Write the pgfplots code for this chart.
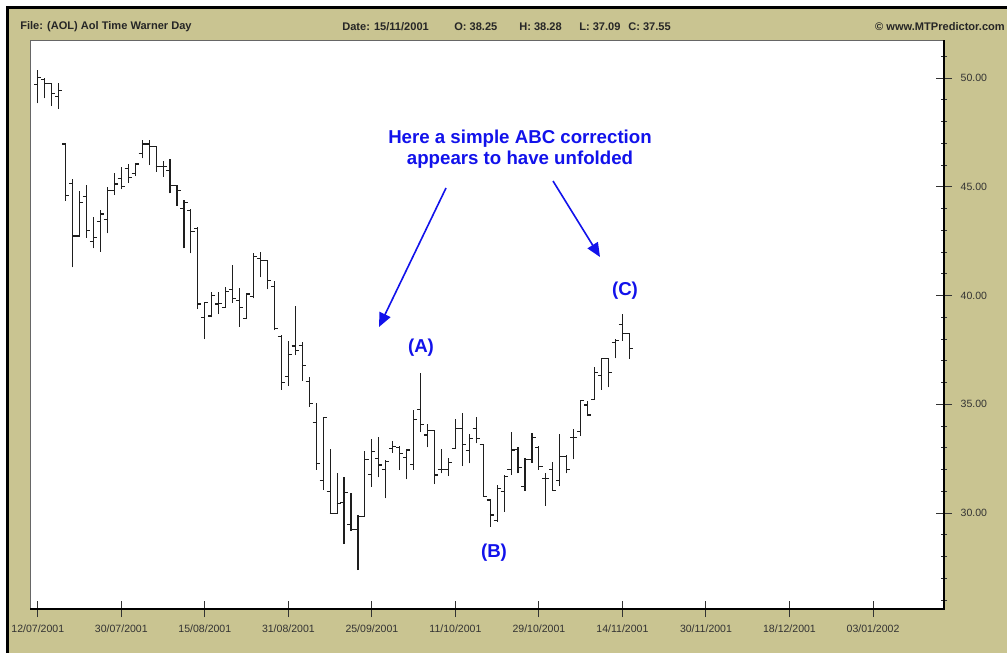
\documentclass[border=0pt]{standalone}
\usepackage{fontspec}
\setmainfont{Liberation Sans}
\usepackage{pgfplots}
\usepackage{pgfplotstable}
\pgfplotsset{compat=1.18}
\usetikzlibrary{arrows.meta}

\definecolor{khaki}{RGB}{201,196,145}
\definecolor{abcblue}{RGB}{18,18,235}
\definecolor{barcol}{RGB}{30,30,30}

% open tick to the left, close tick to the right
\pgfdeclareplotmark{otick}{\pgfpathmoveto{\pgfqpoint{-2.7pt}{0pt}}\pgfpathlineto{\pgfqpoint{0.3pt}{0pt}}\pgfusepathqstroke}
\pgfdeclareplotmark{ctick}{\pgfpathmoveto{\pgfqpoint{-0.3pt}{0pt}}\pgfpathlineto{\pgfqpoint{2.7pt}{0pt}}\pgfusepathqstroke}

% trading day index, open, high, low, close
\pgfplotstableread{
i o h l c
0 49.72 50.37 48.84 50.03
1 49.94 49.99 49.07 49.76
2 49.76 49.78 48.71 49.30
3 49.14 49.78 48.60 49.42
4 46.97 46.97 44.36 44.62
5 45.16 45.34 41.30 42.74
6 42.74 44.82 42.70 44.27
7 44.57 45.08 42.67 43.01
8 42.47 43.60 42.17 42.67
9 43.39 43.93 42.01 43.75
10 43.50 44.97 42.86 44.85
11 44.85 45.65 44.62 45.13
12 45.39 45.89 44.88 45.03
13 45.85 46.05 45.19 45.43
14 45.62 46.11 45.49 46.05
15 46.54 47.15 46.31 46.97
16 46.97 47.15 46.00 46.84
17 46.84 46.84 45.69 45.95
18 45.95 46.20 45.46 45.95
19 45.77 46.26 44.70 45.08
20 45.08 45.08 44.12 44.82
21 44.00 44.39 42.17 44.27
22 43.93 44.00 41.94 42.93
23 43.09 43.16 39.38 39.61
24 39.00 39.72 38.00 39.68
25 39.06 40.18 39.00 40.02
26 39.61 40.18 39.15 39.64
27 39.46 40.38 39.46 40.18
28 40.28 41.40 39.67 39.87
29 39.76 40.33 38.57 39.46
30 38.95 40.10 38.92 40.07
31 39.95 41.94 39.87 41.79
32 41.71 42.00 40.84 41.63
33 41.60 41.63 40.28 40.68
34 40.40 40.68 38.41 38.50
35 38.11 38.18 35.66 35.99
36 36.27 37.92 35.84 37.31
37 37.68 39.52 37.26 37.46
38 37.72 37.86 36.08 36.78
39 36.04 36.27 34.89 35.04
40 34.17 35.04 32.00 32.28
41 31.49 34.40 31.06 34.40
42 30.98 32.93 29.98 29.98
43 29.98 31.86 29.95 30.44
44 30.47 31.67 28.57 30.94
45 29.49 30.94 29.19 29.25
46 29.25 29.91 27.38 29.86
47 29.86 32.87 29.86 32.47
48 31.79 33.39 31.21 32.82
49 32.51 33.48 31.64 32.21
50 32.00 32.44 30.68 32.36
51 32.97 33.32 32.77 33.08
52 33.02 33.08 31.98 32.74
53 32.56 32.90 31.55 32.90
54 32.25 34.74 32.00 34.31
55 34.77 36.44 33.74 34.09
56 33.59 34.08 33.02 33.79
57 33.79 33.79 31.33 31.75
58 32.00 32.93 31.83 32.00
59 32.00 32.51 31.70 32.31
60 32.97 34.31 32.97 33.89
61 33.89 34.62 32.16 33.17
62 32.87 33.63 32.28 33.44
63 33.89 34.43 33.20 33.44
64 33.17 33.17 30.75 30.75
65 30.60 30.60 29.37 29.91
66 29.65 31.29 29.60 31.13
67 31.01 31.75 30.06 31.67
68 32.00 33.74 31.75 32.90
69 32.93 33.05 31.83 32.10
70 31.24 32.51 31.02 32.47
71 32.47 33.70 32.31 33.48
72 33.02 33.08 32.00 32.13
73 31.60 31.83 30.34 31.60
74 32.00 32.36 31.02 31.05
75 31.49 33.63 31.24 32.61
76 32.59 32.67 31.83 32.00
77 33.48 33.85 32.47 33.48
78 33.74 35.16 33.54 35.16
79 34.97 35.16 34.46 34.51
80 35.23 36.73 35.23 36.45
81 36.34 37.11 35.66 37.11
82 37.11 37.11 35.78 36.45
83 37.83 37.99 37.11 37.95
84 38.68 39.15 37.92 38.26
85 38.25 38.28 37.09 37.55
}\aol

\begin{document}
\begin{tikzpicture}
\clip (0pt,0pt) rectangle (755.25pt,-489.75pt);
\begin{scope}[x=0.75pt,y=-0.75pt]
  \fill[white] (0,0) rectangle (1007,653);
  \fill[khaki] (7.5,7.5) rectangle (1012,660);
  \draw[black, line width=2pt] (7.5,660) -- (7.5,7.5) -- (1012,7.5);
  \begin{scope}[font=\bfseries\fontsize{8.3}{10}\selectfont, text=black!85, inner sep=0pt]
    \node[anchor=west] at (20,27) {File: (AOL) Aol Time Warner Day};
    \node[anchor=west] at (342,27) {Date: 15/11/2001};
    \node[anchor=west] at (454,27) {O: 38.25};
    \node[anchor=west] at (519,27) {H: 38.28};
    \node[anchor=west] at (579,27) {L: 37.09};
    \node[anchor=west] at (628,27) {C: 37.55};
    \node[anchor=east] at (1005,27) {\textcopyright\ www.MTPredictor.com};
  \end{scope}
\end{scope}

\begin{axis}[
  at={(22.875pt,-456.75pt)}, anchor=south west,
  scale only axis, width=685.125pt, height=426.75pt,
  xmin=-1.05, xmax=130.2, ymin=25.59, ymax=51.75,
  axis background/.style={fill=white},
  axis line style={draw=black!60, line width=0.6pt},
  xtick={0,12,...,120},
  xticklabels={12/07/2001,30/07/2001,15/08/2001,31/08/2001,25/09/2001,11/10/2001,29/10/2001,14/11/2001,30/11/2001,18/12/2001,03/01/2002},
  ytick={30,35,40,45,50},
  minor ytick={26,27,...,51},
  xtick pos=left, ytick pos=right, yticklabel pos=right,
  tick align=center,
  major tick length=12pt, minor tick length=4.5pt,
  tick style={black!80, line width=0.75pt},
  ticklabel style={font=\fontsize{7.9}{9}\selectfont, text=black!80},
  xticklabel style={yshift=-2.5pt},
  yticklabel style={xshift=3pt, /pgf/number format/.cd, fixed, fixed zerofill, precision=2, assume math mode=true},
  clip=false,
]
\draw[black, line width=1.1pt] (rel axis cs:0,0) -- (rel axis cs:1,0) -- (rel axis cs:1,1);

% high-low ranges
\addplot[draw=none, mark=none,
  error bars/.cd, y dir=plus, y explicit, error mark=none,
  error bar style={draw=barcol, line width=0.85pt}]
  table[x=i, y=l, y error expr=\thisrow{h}-\thisrow{l}] {\aol};
% opens
\addplot[only marks, mark=otick, mark options={draw=barcol, line width=0.85pt}]
  table[x=i, y=o] {\aol};
% closes
\addplot[only marks, mark=ctick, mark options={draw=barcol, line width=0.85pt}]
  table[x=i, y=c] {\aol};
\end{axis}

\begin{scope}[x=0.75pt,y=-0.75pt, font=\bfseries\fontsize{14}{16}\selectfont, text=abcblue]
  \node[align=center, inner sep=0pt] at (520,149) {Here a simple ABC correction\\[0pt]appears to have unfolded};
  \draw[abcblue, line width=1.2pt, -{Triangle[length=10.5pt,width=9pt]}] (446,188) -- (379,327);
  \draw[abcblue, line width=1.2pt, -{Triangle[length=10.5pt,width=9pt]}] (553,181) -- (600,257);
  \node[inner sep=0pt] at (421,348) {(A)};
  \node[inner sep=0pt] at (494,553) {(B)};
  \node[inner sep=0pt] at (625,291) {(C)};
\end{scope}
\end{tikzpicture}
\end{document}
